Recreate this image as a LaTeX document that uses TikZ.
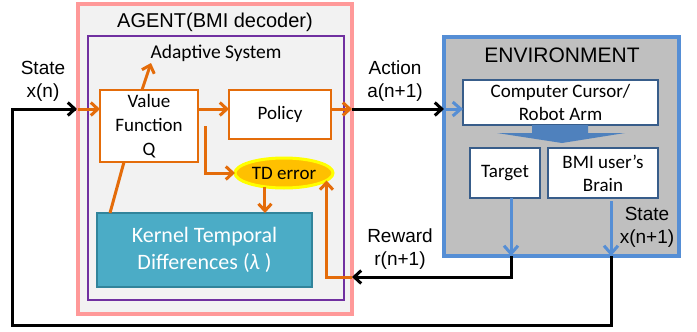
\documentclass[tikz,border=0pt]{standalone}
\usepackage{fontspec}
\setmainfont{Liberation Sans}
\newfontfamily\calfont{Carlito}
\usetikzlibrary{arrows.meta,calc,shapes.geometric}
\definecolor{pinkb}{HTML}{FF9999}
\definecolor{agfill}{HTML}{F2F2F2}
\definecolor{purp}{HTML}{7030A0}
\definecolor{orng}{HTML}{E46C0A}
\definecolor{kfill}{HTML}{4BACC6}
\definecolor{kdraw}{HTML}{31849B}
\definecolor{envfill}{HTML}{BFBFBF}
\definecolor{envdraw}{HTML}{558ED5}
\definecolor{boxdraw}{HTML}{385D8A}
\definecolor{blockb}{HTML}{4F81BD}
\definecolor{tdfill}{HTML}{FFC000}
\definecolor{tddraw}{HTML}{FFFF00}
\begin{document}
\begin{tikzpicture}[x=1pt,y=-1pt,
  box/.style={rectangle,anchor=north west,inner sep=0pt,outer sep=0pt},
  obox/.style={box,draw=orng,line width=1.5pt,fill=white,font=\calfont\fontsize{19}{24}\selectfont,align=center},
  ebox/.style={box,draw=boxdraw,line width=1.5pt,fill=white,font=\calfont\fontsize{19}{23}\selectfont,align=center},
  lbl/.style={font=\fontsize{19}{23}\selectfont,align=center,inner sep=0pt},
  blk/.style={draw=black,line width=3pt,-{Straight Barb[length=7pt,width=13pt]}},
  blkline/.style={draw=black,line width=3pt},
  org/.style={draw=orng,line width=3pt,-{Straight Barb[length=7pt,width=13pt]}},
  orgline/.style={draw=orng,line width=3pt},
  blu/.style={draw=envdraw,line width=3pt,-{Straight Barb[length=8pt,width=14pt]}}
]
\useasboundingbox (0,0) rectangle (697,332);
% agent
\node[box,draw=pinkb,fill=agfill,line width=4pt,minimum width=274pt,minimum height=310pt] (agent) at (78,4) {};
\node[box,draw=purp,line width=1.5pt,minimum width=256pt,minimum height=264pt] (adapt) at (88,36) {};
\node[font=\fontsize{20}{24}\selectfont,inner sep=0pt] (agtitle) at (215,22) {AGENT(BMI decoder)};
\node[font=\calfont\fontsize{19.5}{22}\selectfont,inner sep=0pt] (adtitle) at (216,53) {Adaptive System};
\node[obox,minimum width=98pt,minimum height=72pt] (value) at (100,90) {Value\\Function\\Q};
\node[obox,minimum width=102pt,minimum height=49pt] (policy) at (229,90) {Policy};
\node[box,draw=kdraw,fill=kfill,line width=1.5pt,minimum width=215pt,minimum height=74pt,text=white,font=\calfont\fontsize{22}{27}\selectfont,align=center] (kernel) at (97,213) {Kernel Temporal\\Differences ({\itshape λ} )};
\node[ellipse,draw=tddraw,fill=tdfill,line width=3pt,minimum width=98pt,minimum height=30pt,inner sep=0pt,outer sep=0pt,font=\calfont\fontsize{19}{23}\selectfont] (td) at (284,173) {TD error};
% environment
\node[box,draw=envdraw,fill=envfill,line width=4pt,minimum width=235pt,minimum height=219pt] (env) at (444,37) {};
\node[font=\fontsize{21}{24}\selectfont,inner sep=0pt] (envtitle) at (562,55) {ENVIRONMENT};
\node[ebox,minimum width=195pt,minimum height=45pt] (cursor) at (463,80) {Computer Cursor/\\Robot Arm};
\node[ebox,minimum width=70pt,minimum height=50pt] (target) at (470,148) {Target};
\node[ebox,minimum width=110pt,minimum height=50pt] (brain) at (548,148) {BMI user’s\\Brain};
\fill[blockb] (532,125) -- (588,125) -- (588,133) -- (625,133) -- (562,143) -- (497,133) -- (532,133) -- cycle;
% labels
\node[lbl] (lstate) at (43,81) {State\\x(n)};
\node[lbl] (laction) at (395,81) {Action\\a(n+1)};
\node[lbl] (lreward) at (400,249) {Reward\\r(n+1)};
\node[lbl] (lstate2) at (647,227) {State\\x(n+1)};
% inner orange connectors
\coordinate (vp) at (205,0);
\coordinate (adtip) at (151,63);
\draw[org] (value.east |- 0,109) -- (policy.west |- 0,109);
\draw[org] ($(value.north west)+(42,0)$) -- (adtip);
\draw[org] (vp |- value.east) |- (td.west);
\draw[org] (td.-144) -- (td.-144 |- kernel.north);
\draw[orgline] ($(kernel.north west)+(13,0)$) -- ($(value.south west)+(24,0)$);
% action
\draw[org] (policy.east |- 0,109) -- (agent.east |- 0,109);
\draw[blk] (agent.east |- 0,109) -- (env.west |- 0,109);
\draw[blu] ($(env.west |- 0,109)+(2,0)$) -- (cursor.west |- 0,109);
% env arrows
\draw[blu] (target.south -| 511,0) -- (env.south -| 511,0);
\draw[blu] ($(brain.south -| 611,0)+(0,3)$) -- (env.south -| 611,0);
% reward
\coordinate (rw) at (0,277);
\draw[blk] (env.south -| 511,0) |- (agent.east |- rw);
\draw[org] (agent.east |- rw) -| (td.-10);
% state feedback loop
\coordinate (bl) at (12,325);
\draw[blkline,line join=miter] (env.south -| 611,0) |- (bl) |- ($(agent.west |- 0,109)+(-2,0)$);
\draw[blk] (12,109) -- ($(agent.west |- 0,109)+(-1,0)$);
\draw[org] (agent.west |- 0,109) -- (value.west |- 0,109);
\end{tikzpicture}
\end{document}
